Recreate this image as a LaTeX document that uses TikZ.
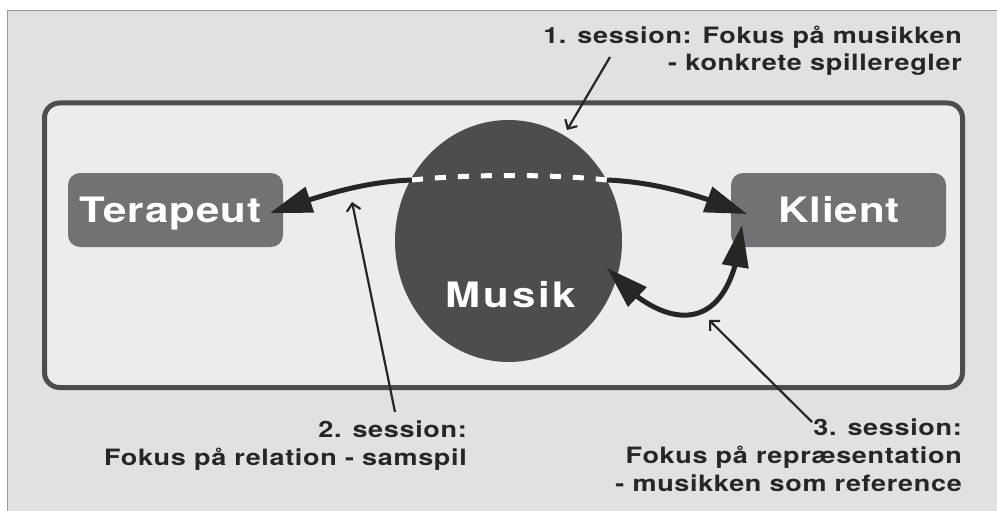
\documentclass[tikz,border=0pt]{standalone}
\usepackage{fontspec}
\usetikzlibrary{arrows.meta,shapes.geometric,bending}
\newfontfamily\lblfont{TeX Gyre Heros}[FakeStretch=1.2,LetterSpace=3]
\newfontfamily\musfont{TeX Gyre Heros}[FakeStretch=1.2,LetterSpace=8]
\definecolor{outerbg}{HTML}{E0E1E0}
\definecolor{innerbg}{HTML}{ECECEC}
\definecolor{framec}{HTML}{4D4D4F}
\definecolor{boxc}{HTML}{727274}
\definecolor{darkc}{HTML}{262626}
\definecolor{edgec}{HTML}{9A9A9A}
\begin{document}
\begin{tikzpicture}[x=1pt,y=-1pt,
  boxnode/.style={draw=none,fill=boxc,rounded corners=12pt,minimum width=215pt,minimum height=74pt,inner sep=0pt},
  musikc/.style={ellipse,fill=framec,minimum width=227pt,minimum height=242pt,inner sep=0pt},
  bigtxt/.style={text=white,font=\lblfont\bfseries\fontsize{35}{40}\selectfont,inner sep=0pt},
  lbl/.style={text=darkc,font=\lblfont\bfseries\fontsize{22.5}{28}\selectfont,align=right,inner sep=0pt},
  bigarrow/.style={draw=darkc,line width=5pt,-{Triangle[length=42pt,width=26pt,flex]}},
  dblarrow/.style={draw=darkc,line width=5pt,{Triangle[length=42pt,width=26pt,flex]}-{Triangle[length=42pt,width=26pt,flex]}},
  thinarrow/.style={draw=darkc,line width=2.2pt,-{Straight Barb[length=7pt,width=14pt]}},
  dashwhite/.style={draw=white,line width=5pt,dash pattern=on 11pt off 12pt}
]
\useasboundingbox (0,0) rectangle (997,511);
\fill[white] (0,0) rectangle (997,511);
\fill[outerbg] (7.5,10.5) rectangle (997,511);
\draw[edgec,line width=1.2pt] (7.5,511) -- (7.5,10.5) -- (997,10.5);
\draw[framec,fill=innerbg,line width=5pt,rounded corners=15pt] (44.5,103) rectangle (962.5,387.5);

\node[boxnode] (terapeut) at (175.5,210) {};
\node[boxnode] (klient) at (838.5,210) {};
\node[musikc] (musik) at (508.5,241) {};
\node[bigtxt,anchor=base] (tertxt) at (170.5,222) {Terapeut};
\node[bigtxt,anchor=base] (klitxt) at (839,222) {Klient};
\node[bigtxt,font=\musfont\bfseries\fontsize{35}{40}\selectfont,anchor=base] (mustxt) at (511,307) {Musik};

\coordinate (dl) at (412,180);
\coordinate (dr) at (607,180);
\coordinate (tipT) at (270,213);
\coordinate (tipK) at (747,214);
\coordinate (tipM) at (607,268);
\coordinate (tipK2) at (742,225);

\draw[bigarrow] (dl) .. controls (360,182) and (320,196) .. (tipT);
\draw[bigarrow] (dr) .. controls (655,182) and (700,195) .. (tipK);
\draw[dashwhite] (dl) .. controls (470,174) and (550,174) .. (dr);
\draw[dblarrow] (tipM) .. controls (660,330) and (732,345) .. (tipK2);

\node[lbl,anchor=base east] (l1) at (962,71) {1. session: Fokus på musikken\\- konkrete spilleregler};
\node[lbl,anchor=base east] (l2) at (467,465) {2. session:\\Fokus på relation - samspil};
\node[lbl,anchor=base east] (l3) at (962,491) {3. session:\\Fokus på repræsentation\\- musikken som reference};

\coordinate (a1s) at (610,57);
\coordinate (a1e) at (567,130);
\coordinate (a2s) at (395,412);
\coordinate (a2e) at (352,202);
\coordinate (a3s) at (812,422);
\coordinate (a3e) at (709,320);
\draw[thinarrow] (a1s) -- (a1e);
\draw[thinarrow] (a2s) -- (a2e);
\draw[thinarrow] (a3s) -- (a3e);
\end{tikzpicture}
\end{document}
